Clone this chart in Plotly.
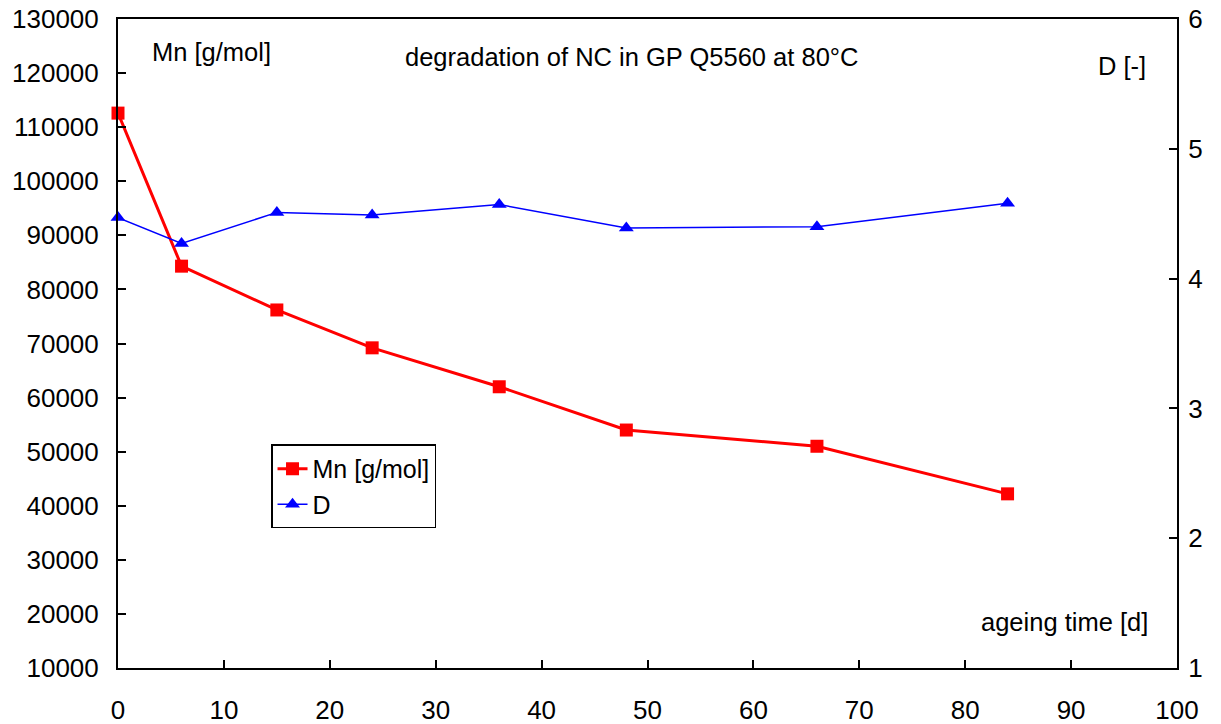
import plotly.graph_objects as go

# Ageing data for nitrocellulose in GP Q5560 at 80 °C
ageing_days = [0, 6, 15, 24, 36, 48, 66, 84]
mn_values = [112600, 84300, 76200, 69200, 62000, 54000, 51000, 42200]
d_values = [4.47, 4.27, 4.51, 4.49, 4.57, 4.39, 4.40, 4.58]

FONT = "Liberation Sans, Arial, sans-serif"

fig = go.Figure()

fig.add_trace(go.Scatter(
    x=ageing_days, y=mn_values, name="Mn [g/mol]",
    mode="lines+markers",
    line=dict(color="#ff0000", width=3),
    marker=dict(symbol="square", size=13, color="#ff0000"),
    yaxis="y",
    cliponaxis=False,
))

fig.add_trace(go.Scatter(
    x=ageing_days, y=d_values, name="D",
    mode="lines+markers",
    line=dict(color="#0000ff", width=1.5),
    marker=dict(symbol="triangle-up", size=13, color="#0000ff"),
    yaxis="y2",
    cliponaxis=False,
))

axis_common = dict(
    showgrid=False, zeroline=False, showline=True, linecolor="black",
    linewidth=2, ticks="inside", ticklen=8, tickwidth=1.5, tickcolor="black",
    tickfont=dict(family=FONT, size=26, color="black"),
    tickformat="d", automargin=False,
)

fig.update_layout(
    width=1221, height=724,
    margin=dict(l=118, r=44, t=19, b=56, autoexpand=False),
    paper_bgcolor="white", plot_bgcolor="white",
    font=dict(family=FONT, color="black"),
    xaxis=dict(range=[0, 100], dtick=10, mirror=True, ticklabelstandoff=18,
               **axis_common),
    yaxis=dict(range=[10000, 130000], dtick=10000, ticklabelstandoff=12,
               **axis_common),
    yaxis2=dict(range=[1, 6], dtick=1, overlaying="y", side="right",
                ticklabelstandoff=4, **axis_common),
    legend=dict(
        x=0.1445, y=0.2797, xanchor="left", yanchor="middle",
        bgcolor="white", bordercolor="black", borderwidth=1.5,
        font=dict(family=FONT, size=25, color="black"),
        tracegroupgap=0,
    ),
    showlegend=True,
)

annotations = [
    dict(text="Mn [g/mol]", x=0.0302, y=0.949, xanchor="left", yanchor="middle"),
    dict(text="degradation of NC in GP Q5560 at 80°C", x=0.485, y=0.941,
         xanchor="center", yanchor="middle"),
    dict(text="D [-]", x=0.9726, y=0.928, xanchor="right", yanchor="middle"),
    dict(text="ageing time [d]", x=0.9745, y=0.071, xanchor="right",
         yanchor="middle"),
]
for a in annotations:
    fig.add_annotation(xref="paper", yref="paper", showarrow=False,
                       font=dict(family=FONT, size=25.5, color="black"), **a)

fig.write_html("out.html")
